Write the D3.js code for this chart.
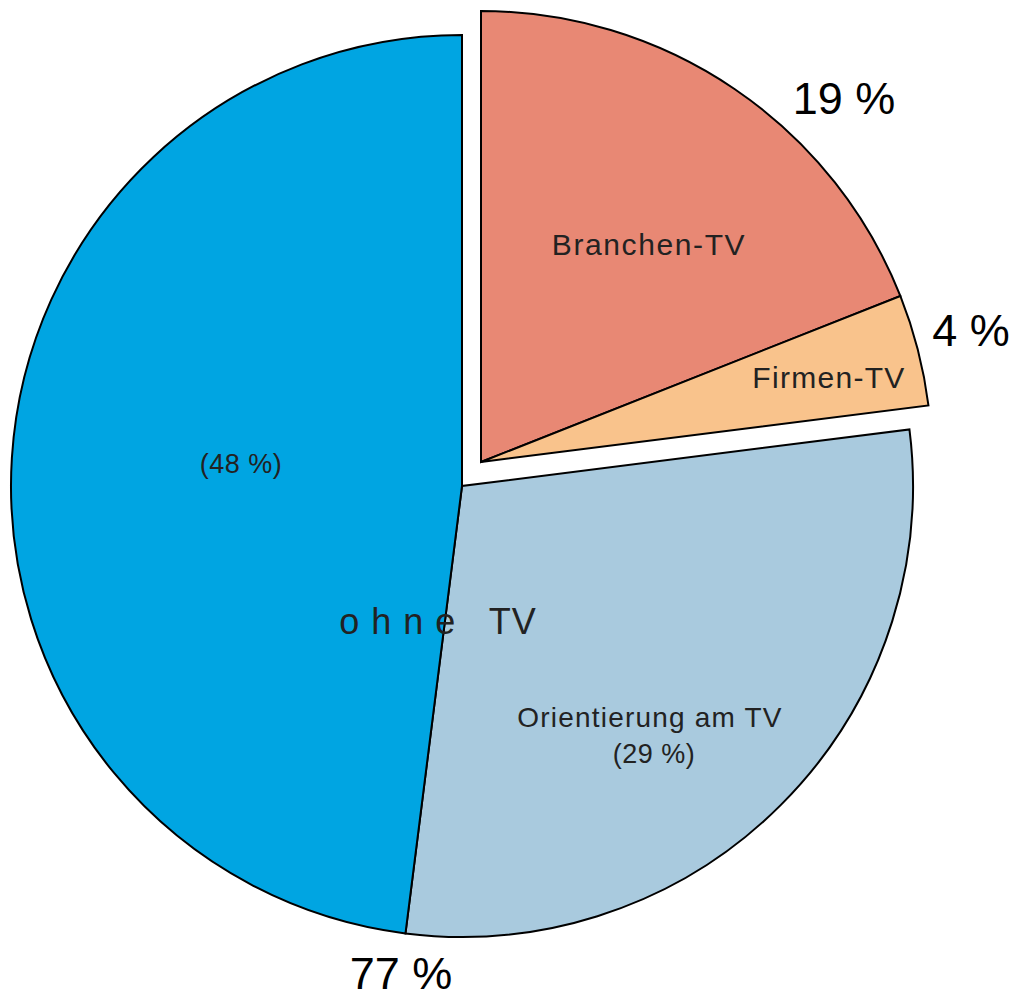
<!DOCTYPE html>
<html>
<head>
<meta charset="utf-8">
<script src="https://cdn.jsdelivr.net/npm/d3@7"></script>
<style>
  html, body { margin: 0; padding: 0; background: #fff; }
  svg { display: block; }
  text { font-family: "Liberation Sans", Arial, sans-serif; }
</style>
</head>
<body>
<div id="chart"></div>
<script>
// shares in percent, clockwise from 12 o'clock
var categories = ["Branchen-TV", "Firmen-TV", "Orientierung am TV", "ohne TV"];
var shares = [19, 4, 29, 48];
var exploded = [true, true, false, false];
var colors = ["#e88874", "#f9c38c", "#a9cade", "#00a5e2"];

// outer labels
var outerTexts = ["19 %", "4 %", "77 %"];

var width = 1018, height = 995;
var cx = 462, cy = 486, r = 451;
var shift = [19, -24];

var svg = d3.select("#chart").append("svg")
    .attr("width", width).attr("height", height);

var pie = d3.pie().sort(null).value(function(d) { return d; });
var arc = d3.arc().innerRadius(0).outerRadius(r);
var arcs = pie(shares);

svg.selectAll("path.slice")
    .data(arcs)
  .enter().append("path")
    .attr("class", "slice")
    .attr("transform", function(d, i) {
        var dx = exploded[i] ? shift[0] : 0, dy = exploded[i] ? shift[1] : 0;
        return "translate(" + (cx + dx) + "," + (cy + dy) + ")";
    })
    .attr("d", arc)
    .attr("fill", function(d, i) { return colors[i]; })
    .attr("stroke", "#000")
    .attr("stroke-width", 2)
    .attr("stroke-linejoin", "miter");

// inner labels (text, x, y, size, spacing)
var inner = [
    [categories[0], 649, 255, 30, 1.6],
    [categories[1], 829, 388, 30, 1.3],
    ["(" + shares[3] + " %)", 241, 473, 27, 0.5],
    [categories[2], 650, 727, 28, 1.2],
    ["(" + shares[2] + " %)", 654, 763, 27, 0.5]
];
svg.selectAll("text.inner")
    .data(inner)
  .enter().append("text")
    .attr("class", "inner")
    .attr("x", function(d) { return d[1]; })
    .attr("y", function(d) { return d[2]; })
    .attr("text-anchor", "middle")
    .attr("font-size", function(d) { return d[3]; })
    .attr("letter-spacing", function(d) { return d[4]; })
    .attr("fill", "#222")
    .text(function(d) { return d[0]; });

svg.append("text")
    .attr("x", 438).attr("y", 634)
    .attr("text-anchor", "middle")
    .attr("font-size", 36)
    .attr("letter-spacing", 1)
    .attr("fill", "#222")
    .style("white-space", "pre")
    .text("o h n e   TV");

var outer = [[844, 114], [971, 346], [401, 989]];
svg.selectAll("text.outer")
    .data(outerTexts)
  .enter().append("text")
    .attr("class", "outer")
    .attr("x", function(d, i) { return outer[i][0]; })
    .attr("y", function(d, i) { return outer[i][1]; })
    .attr("text-anchor", "middle")
    .attr("font-size", 45)
    .attr("fill", "#000")
    .text(function(d) { return d; });
</script>
</body>
</html>
